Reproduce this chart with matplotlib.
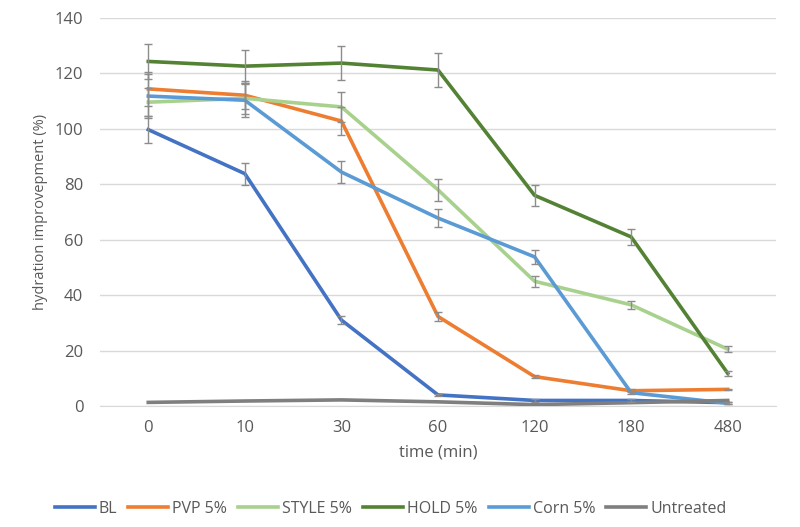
import matplotlib.pyplot as plt

plt.rcParams['font.family'] = ['Open Sans', 'DejaVu Sans']

times = ['0', '10', '30', '60', '120', '180', '480']

bl = [99.7, 83.8, 31, 4, 2, 2, 1.2]
bl_err = [5, 4, 1.5, 0.5, 0.5, 0.5, 0.3]
pvp = [114.4, 112.1, 102.8, 32.3, 10.6, 5.5, 6]
pvp_err = [6, 5, 5, 1.5, 0.5, 0.5, 0.3]
style = [109.6, 111, 107.9, 78, 45, 36.5, 20.5]
style_err = [5, 5.5, 5.5, 4, 2, 1.5, 1]
hold = [124.3, 122.6, 123.7, 121.2, 76, 61, 11.8]
hold_err = [6.4, 6, 6, 6, 3.7, 3, 1]
corn = [111.8, 110.3, 84.4, 67.8, 53.8, 4.8, 1]
corn_err = [8, 6, 4, 3.4, 2.5, 0.5, 0.3]
untreated = [1.3, 1.8, 2.2, 1.5, 0.5, 1.2, 2]

series = [
    ('BL', bl, bl_err, '#4472C4'),
    ('PVP 5%', pvp, pvp_err, '#ED7D31'),
    ('STYLE 5%', style, style_err, '#A9D18E'),
    ('HOLD 5%', hold, hold_err, '#548235'),
    ('Corn 5%', corn, corn_err, '#5B9BD5'),
    ('Untreated', untreated, None, '#7F7F7F'),
]

fig = plt.figure(figsize=(8, 5.27), dpi=100)
ax = fig.add_axes([0.125, 0.2296, 0.845, 0.7364])

x = list(range(len(times)))
for name, vals, err, col in series:
    ax.plot(x, vals, color=col, linewidth=2.6, label=name, zorder=3)
    if err is not None:
        ax.errorbar(x, vals, yerr=err, fmt='none', ecolor='#8c8c8c',
                    elinewidth=1, capsize=3, capthick=1, zorder=4)

ax.set_xlim(-0.5, len(times) - 0.5)
ax.set_ylim(0, 140)
ax.set_yticks(range(0, 141, 20))
ax.set_xticks(x)
ax.set_xticklabels(times)
ax.grid(axis='y', color='#d9d9d9', linewidth=1)
ax.set_axisbelow(True)
for s in ['top', 'right', 'left']:
    ax.spines[s].set_visible(False)
ax.spines['bottom'].set_color('#d9d9d9')
ax.tick_params(axis='both', length=0, colors='#595959', labelsize=12)
ax.tick_params(axis='y', pad=12)
ax.tick_params(axis='x', pad=10)

ax.set_ylabel('hydration improvepment (%)', color='#595959', fontsize=10.5, labelpad=5)
ax.set_xlabel('time (min)', color='#595959', fontsize=12, labelpad=6)

leg = ax.legend(loc='center', bbox_to_anchor=(0.43, -0.265), ncol=6,
                frameon=False, fontsize=11.5, handlelength=2.5,
                columnspacing=0.7, handletextpad=0.25)
for t in leg.get_texts():
    t.set_color('#595959')

fig.savefig('out.png', dpi=100)
